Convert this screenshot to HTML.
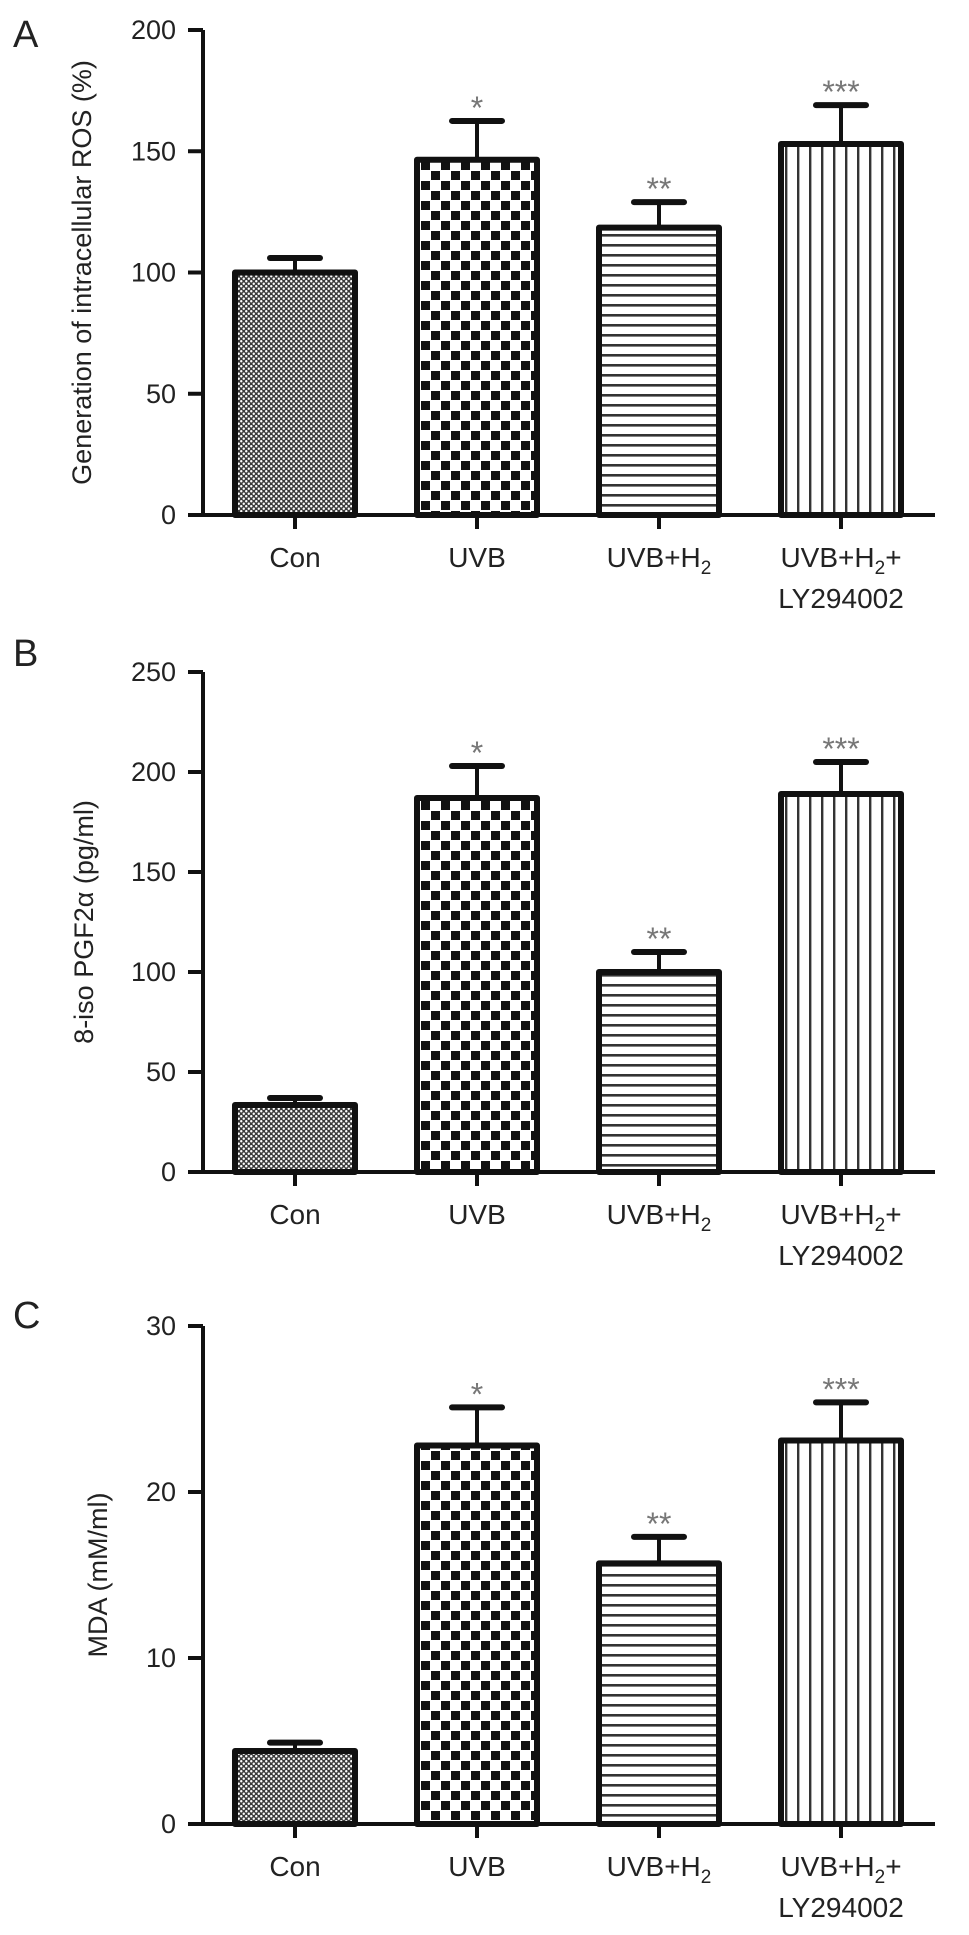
<!DOCTYPE html>
<html><head><meta charset="utf-8">
<style>
html,body{margin:0;padding:0;background:#fff;}
svg{display:block;font-family:"Liberation Sans",Arial,sans-serif;}
</style></head>
<body>
<svg id="fig" width="969" height="1935" viewBox="0 0 969 1935" xmlns="http://www.w3.org/2000/svg">
<defs>
  <pattern id="pDots" width="5" height="5" patternUnits="userSpaceOnUse">
    <rect width="5" height="5" fill="#3a3a3a"/>
    <circle cx="1.25" cy="1.25" r="1.2" fill="#fff"/>
    <circle cx="3.75" cy="3.75" r="1.2" fill="#fff"/>
  </pattern>
  <pattern id="pCheck" width="20" height="20" patternUnits="userSpaceOnUse">
    <rect width="20" height="20" fill="#fff"/>
    <rect x="1" y="1" width="9" height="9" fill="#111"/>
    <rect x="11" y="11" width="9" height="9" fill="#111"/>
  </pattern>
  <pattern id="pHoriz" width="10" height="10" patternUnits="userSpaceOnUse">
    <rect width="10" height="10" fill="#fff"/>
    <rect x="0" y="4" width="10" height="2.6" fill="#333"/>
  </pattern>
  <pattern id="pVert" width="12" height="12" patternUnits="userSpaceOnUse">
    <rect width="12" height="12" fill="#fff"/>
    <rect x="5" y="0" width="2.4" height="12" fill="#333"/>
  </pattern>
</defs>
</svg>
<script>
// ---- data ----
const categories = ["Con", "UVB", "UVB+H2", "UVB+H2+LY294002"];
const stars = ["", "*", "**", "***"];
const rosValues = [100, 146.5, 118.5, 153];
const rosErrors = [106, 162.5, 129, 169];
const rosTicks = [0, 50, 100, 150, 200];
const pgfValues = [33.5, 187, 100, 189];
const pgfErrors = [37, 203, 110, 205];
const pgfTicks = [0, 50, 100, 150, 200, 250];
const mdaValues = [4.4, 22.8, 15.7, 23.1];
const mdaErrors = [4.9, 25.1, 17.3, 25.4];
const mdaTicks = [0, 10, 20, 30];

const NS = "http://www.w3.org/2000/svg";
const svg = document.getElementById('fig');
const fills = ["url(#pDots)", "url(#pCheck)", "url(#pHoriz)", "url(#pVert)"];
function mk(tag, attrs, parent) {
  const e = document.createElementNS(NS, tag);
  for (const k in attrs) e.setAttribute(k, attrs[k]);
  (parent || svg).appendChild(e);
  return e;
}
const AX = 203, XEND = 935, BAR0 = 232, BARSTEP = 182, BARW = 126;
function xCenter(i) { return BAR0 + i * BARSTEP + BARW / 2; }

function panel(key, letter, letterY, title, titleX, y0px, ymaxVal, ymaxPx, vals, errs, ticks) {
  const g = mk('g', {});
  
  
  const yS = v => y0px - (v / ymaxVal) * (y0px - ymaxPx);
  const L = mk('text', {x: 13, y: letterY, 'font-size': 38, fill: '#222'}, g);
  L.textContent = letter;
  
  
  const midY = (y0px + ymaxPx) / 2;
  const T = mk('text', {x: titleX, y: midY, 'font-size': 27, fill: '#222', 'text-anchor': 'middle',
    transform: `rotate(-90 ${titleX} ${midY})`, 'dominant-baseline': 'middle'}, g);
  T.innerHTML = title;
  
  
  vals.forEach((v, i) => {
    const x = BAR0 + i * BARSTEP + 3, top = yS(v);
    const cx = xCenter(i), et = yS(errs[i]);
    const stem = mk('line', {x1: cx, x2: cx, y1: top, y2: et, stroke: '#111', 'stroke-width': 4}, g);
    
    
    const cap = mk('line', {x1: cx - 25, x2: cx + 25, y1: et, y2: et, stroke: '#111', 'stroke-width': 6, 'stroke-linecap': 'round'}, g);
    
    
    const r = mk('rect', {x: x, y: top, width: BARW - 6, height: y0px - top, fill: fills[i],
      stroke: '#111', 'stroke-width': 6, 'stroke-linejoin': 'round'}, g);
    
    
    if (stars[i]) {
      const s = mk('text', {x: cx, y: et - 2, 'font-size': 32, fill: '#777', 'text-anchor': 'middle'}, g);
      s.textContent = stars[i];
      
      
    }
  });
  const ya = mk('line', {x1: AX, x2: AX, y1: ymaxPx, y2: y0px, stroke: '#111', 'stroke-width': 4}, g);
  
  
  const xa = mk('line', {x1: 188, x2: XEND, y1: y0px, y2: y0px, stroke: '#111', 'stroke-width': 4}, g);
  
  
  ticks.forEach(t => {
    const y = yS(t);
    const tl = mk('line', {x1: 188, x2: AX, y1: y, y2: y, stroke: '#111', 'stroke-width': 4}, g);
    
    
    const tx = mk('text', {x: 176, y: y + 9, 'font-size': 27, fill: '#222', 'text-anchor': 'end'}, g);
    tx.textContent = t;
    
    
  });
  categories.forEach((c, i) => {
    const cx = xCenter(i);
    const tk = mk('line', {x1: cx, x2: cx, y1: y0px, y2: y0px + 14, stroke: '#111', 'stroke-width': 4}, g);
    
    
    const lab = mk('text', {x: cx, y: y0px + 52, 'font-size': 28, fill: '#222', 'text-anchor': 'middle'}, g);
    if (c === "UVB+H2") lab.innerHTML = 'UVB+H<tspan font-size="19" dy="7">2</tspan>';
    else if (c === "UVB+H2+LY294002") {
      lab.innerHTML = 'UVB+H<tspan font-size="19" dy="7">2</tspan><tspan dy="-7">+</tspan>';
      const l2 = mk('text', {x: cx, y: y0px + 93, 'font-size': 28, fill: '#222', 'text-anchor': 'middle'}, g);
      l2.textContent = 'LY294002';
      
      
    } else lab.textContent = c;
    
    
  });
}
panel('a', 'A', 47, 'Generation of intracellular ROS (%)', 84, 515, 200, 30, rosValues, rosErrors, rosTicks);
panel('b', 'B', 666, '8-iso PGF2α (pg/ml)', 86, 1172, 250, 672, pgfValues, pgfErrors, pgfTicks);
panel('c', 'C', 1328, 'MDA (mM/ml)', 100, 1824, 30, 1326, mdaValues, mdaErrors, mdaTicks);
</script>
</body></html>
